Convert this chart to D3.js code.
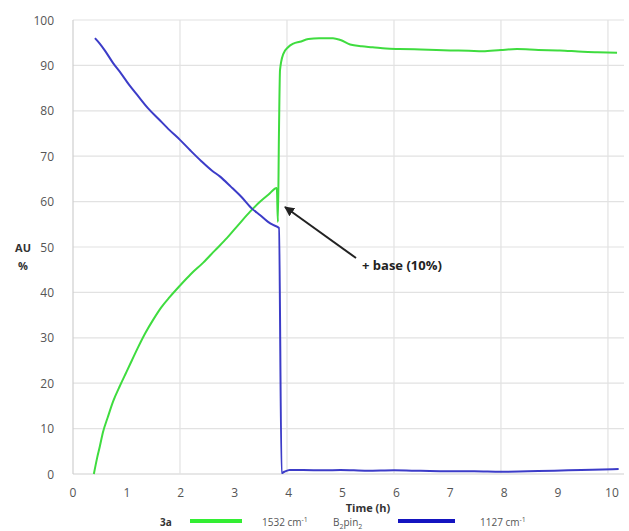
<!DOCTYPE html>
<html>
<head>
<meta charset="utf-8">
<script src="https://cdn.jsdelivr.net/npm/d3@7"></script>
<style>
  body { margin: 0; background: #fff; }
  svg text { font-family: "Open Sans", "Liberation Sans", sans-serif; }
</style>
</head>
<body>
<script>
// green trace: 3a at 1532 cm-1
const greenT = [0.39, 0.45, 0.5, 0.56, 0.65, 0.75, 0.88, 1.0, 1.1, 1.2,
  1.35, 1.5, 1.65, 1.81, 2.0, 2.2, 2.43, 2.65, 2.88, 3.1,
  3.31, 3.5, 3.65, 3.81, 3.83, 3.85, 3.87, 3.93, 4.02, 4.12,
  4.24, 4.4, 4.6, 4.86, 5.0, 5.18, 5.4, 5.6, 5.85, 6.1,
  6.5, 7.05, 7.4, 7.66, 8.0, 8.3, 8.7, 9.1, 9.53, 9.8, 10.17];
const greenV = [0, 3.5, 6, 9.2, 12.5, 16, 19.5, 22.5, 25, 27.5,
  31, 34, 36.7, 39, 41.5, 44, 46.5, 49.2, 52, 55,
  57.8, 60, 61.5, 63, 55.5, 75, 89, 92.5, 94, 94.8,
  95.2, 95.8, 96, 96, 95.6, 94.6, 94.2, 94, 93.7, 93.6,
  93.5, 93.3, 93.2, 93.1, 93.4, 93.6, 93.4, 93.3, 93.0, 92.9, 92.8];

// blue trace: B2pin2 at 1127 cm-1
const blueT = [0.41, 0.5, 0.6, 0.75, 0.9, 1.05, 1.2, 1.4, 1.6, 1.8,
  2.0, 2.2, 2.4, 2.6, 2.75, 2.95, 3.15, 3.35, 3.5, 3.64,
  3.75, 3.85, 3.9, 3.95, 4.05, 4.3, 4.7, 5.0, 5.5, 6.0,
  6.5, 7.0, 7.5, 8.0, 8.5, 9.0, 9.5, 9.9, 10.2];
const blueV = [96, 94.8, 93.2, 90.5, 88.2, 85.7, 83.5, 80.6, 78.2, 75.8,
  73.6, 71.2, 68.9, 66.8, 65.5, 63.3, 61, 58.4, 57, 55.6,
  54.8, 54.2, 0.2, 0.5, 0.9, 0.9, 0.8, 0.9, 0.7, 0.8,
  0.7, 0.6, 0.6, 0.5, 0.6, 0.7, 0.9, 1.0, 1.1];

const xTicks = [0, 1, 2, 3, 4, 5, 6, 7, 8, 9, 10];
const xGrid = [0, 2, 4, 6, 8, 10];
const yTicks = [0, 10, 20, 30, 40, 50, 60, 70, 80, 90, 100];

const width = 629, height = 531;
const green = "#3fdc3f", blue = "#3c3cc8";

const svg = d3.select("body").append("svg").attr("width", width).attr("height", height);

const x = d3.scaleLinear().domain([0, 10.3]).range([73, 624]);
const y = d3.scaleLinear().domain([0, 100]).range([474, 20]);

// grid
svg.append("g").selectAll("line").data(yTicks).enter().append("line")
  .attr("x1", x(0)).attr("x2", x(10.3))
  .attr("y1", d => y(d)).attr("y2", d => y(d))
  .attr("stroke", d => d === 0 ? "#cfcfcf" : "#e2e2e2").attr("stroke-width", 1.2);
svg.append("g").selectAll("line").data(xGrid).enter().append("line")
  .attr("x1", d => x(d)).attr("x2", d => x(d))
  .attr("y1", y(0)).attr("y2", y(100))
  .attr("stroke", d => d === 0 ? "#cfcfcf" : "#e2e2e2").attr("stroke-width", 1.2);

// tick labels
svg.append("g").selectAll("text").data(yTicks).enter().append("text")
  .attr("x", 54).attr("y", d => y(d) + 4.5)
  .attr("text-anchor", "end").attr("font-size", 12).attr("fill", "#555")
  .text(d => d);
svg.append("g").selectAll("text").data(xTicks).enter().append("text")
  .attr("x", d => x(d) + d * 0.4).attr("y", 497)
  .attr("text-anchor", "middle").attr("font-size", 12).attr("fill", "#555")
  .text(d => d);

svg.append("text").attr("x", 368).attr("y", 512).attr("text-anchor", "middle")
  .attr("font-size", 11).attr("font-weight", "bold").attr("fill", "#333").text("Time (h)");
svg.append("text").attr("x", 23).attr("y", 252).attr("text-anchor", "middle")
  .attr("font-size", 11).attr("font-weight", "bold").attr("fill", "#333").text("AU");
svg.append("text").attr("x", 23).attr("y", 270).attr("text-anchor", "middle")
  .attr("font-size", 11).attr("font-weight", "bold").attr("fill", "#333").text("%");

// data lines
const line = d3.line().curve(d3.curveMonotoneX).x(d => x(d[0])).y(d => y(d[1]));
svg.append("path").datum(d3.zip(greenT, greenV)).attr("d", line)
  .attr("fill", "none").attr("stroke", green).attr("stroke-width", 2);
svg.append("path").datum(d3.zip(blueT, blueV)).attr("d", line)
  .attr("fill", "none").attr("stroke", blue).attr("stroke-width", 2);

// annotation arrow
svg.append("defs").append("marker").attr("id", "arr")
  .attr("viewBox", "0 0 10 10").attr("refX", 9).attr("refY", 5)
  .attr("markerWidth", 5).attr("markerHeight", 5).attr("orient", "auto")
  .append("path").attr("d", "M0,0L10,5L0,10z").attr("fill", "#222");
svg.append("line").attr("x1", 356).attr("y1", 258).attr("x2", 285).attr("y2", 207)
  .attr("stroke", "#222").attr("stroke-width", 2).attr("marker-end", "url(#arr)");
svg.append("text").attr("x", 362).attr("y", 270).attr("font-size", 13)
  .attr("font-weight", "bold").attr("fill", "#222").text("+ base (10%)");

// legend
const lg = svg.append("g").attr("font-size", 10).attr("fill", "#555");
lg.append("text").attr("x", 160).attr("y", 526).attr("font-weight", "bold").attr("fill", "#333").text("3a");
lg.append("line").attr("x1", 190).attr("x2", 242).attr("y1", 521).attr("y2", 521)
  .attr("stroke", "#33ee33").attr("stroke-width", 4);
const t1 = lg.append("text").attr("x", 262).attr("y", 526).text("1532 cm");
t1.append("tspan").attr("dy", -4).attr("font-size", 7).text("-1");
const t2 = lg.append("text").attr("x", 333).attr("y", 526).text("B");
t2.append("tspan").attr("dy", 3).attr("font-size", 7).text("2");
t2.append("tspan").attr("dy", -3).text("pin");
t2.append("tspan").attr("dy", 3).attr("font-size", 7).text("2");
lg.append("line").attr("x1", 398).attr("x2", 455).attr("y1", 521).attr("y2", 521)
  .attr("stroke", "#1414c0").attr("stroke-width", 4);
const t3 = lg.append("text").attr("x", 480).attr("y", 526).text("1127 cm");
t3.append("tspan").attr("dy", -4).attr("font-size", 7).text("-1");
</script>
</body>
</html>
